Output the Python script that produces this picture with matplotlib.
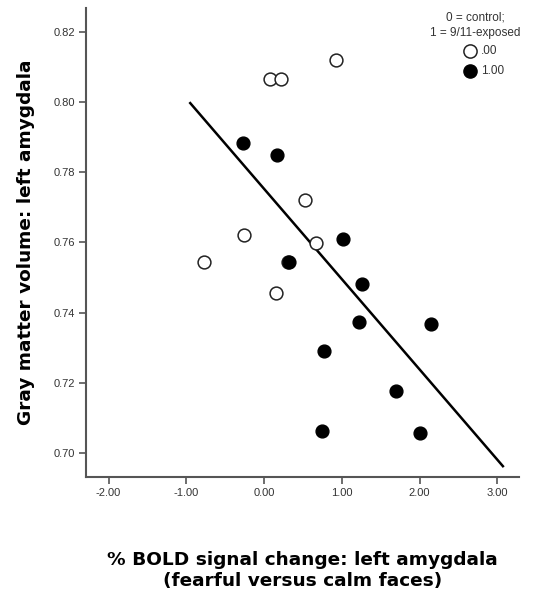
import matplotlib
matplotlib.use("Agg")
import matplotlib.pyplot as plt

plt.rcParams['font.family'] = ['Liberation Sans', 'DejaVu Sans']

# control group (0)
control_x = [0.07, 0.22, 0.93, 0.52, -0.26, 0.67, -0.77, 0.15, 0.31]
control_y = [0.8065, 0.8065, 0.812, 0.772, 0.7622, 0.7599, 0.7544, 0.7455, 0.7545]

# 9/11-exposed group (1)
exposed_x = [-0.27, 0.17, 1.01, 0.32, 1.26, 1.22, 2.15, 0.77, 1.70, 0.75, 2.01]
exposed_y = [0.7883, 0.7848, 0.7609, 0.7545, 0.7481, 0.7373, 0.7369, 0.7291, 0.7177, 0.7064, 0.7058]

# fit line end points
fit_x = [-0.95, 3.07]
fit_y = [0.7997, 0.6963]

x_ticks = [-2.0, -1.0, 0.0, 1.0, 2.0, 3.0]
y_ticks = [0.70, 0.72, 0.74, 0.76, 0.78, 0.80, 0.82]

legend_title = ['0 = control;', '1 = 9/11-exposed']
legend_labels = ['.00', '1.00']

fig = plt.figure(figsize=(5.42, 6.01), dpi=100)
ax = fig.add_axes([0.1587, 0.2068, 0.7993, 0.78])

ax.scatter(control_x, control_y, s=85, facecolors='white', edgecolors='#222222',
           linewidths=1.1, zorder=3)
ax.scatter(exposed_x, exposed_y, s=85, facecolors='black', edgecolors='black',
           linewidths=1.0, zorder=4)
ax.plot(fit_x, fit_y, color='black', linewidth=1.8, zorder=2)

ax.set_xlim(-2.29, 3.28)
ax.set_ylim(0.6933, 0.8268)
ax.set_xticks(x_ticks)
ax.set_xticklabels([f'{v:.2f}' for v in x_ticks])
ax.set_yticks(y_ticks)
ax.set_yticklabels([f'{v:.2f}' for v in y_ticks])

for side in ['top', 'right']:
    ax.spines[side].set_visible(False)
for side in ['left', 'bottom']:
    ax.spines[side].set_color('#555555')
    ax.spines[side].set_linewidth(1.5)
ax.tick_params(axis='both', direction='out', length=5, width=1.2, color='#555555',
               labelsize=8, labelcolor='#333333', pad=3)

ax.set_ylabel('Gray matter volume: left amygdala', fontsize=13.3, fontweight='bold',
              family='DejaVu Sans', labelpad=13)
ax.set_xlabel('% BOLD signal change: left amygdala\n(fearful versus calm faces)',
              fontsize=13.3, fontweight='bold', family='DejaVu Sans', labelpad=38,
              linespacing=1.25)

# legend block in the upper right corner
fig.text(0.8764, 0.9717, legend_title[0], ha='center', va='center', fontsize=8.5,
         color='#333333')
fig.text(0.8764, 0.9451, legend_title[1], ha='center', va='center', fontsize=8.5,
         color='#333333')
fig.lines.append(plt.Line2D([0.8672], [0.9151], transform=fig.transFigure, marker='o',
                            linestyle='none', markersize=9.5, markerfacecolor='white',
                            markeredgecolor='#222222', markeredgewidth=1.1))
fig.lines.append(plt.Line2D([0.8672], [0.8819], transform=fig.transFigure, marker='o',
                            linestyle='none', markersize=9.5, markerfacecolor='black',
                            markeredgecolor='black'))
fig.text(0.8875, 0.9151, legend_labels[0], ha='left', va='center', fontsize=8.5,
         color='#333333')
fig.text(0.8875, 0.8819, legend_labels[1], ha='left', va='center', fontsize=8.5,
         color='#333333')

fig.savefig('out.png', dpi=100)
